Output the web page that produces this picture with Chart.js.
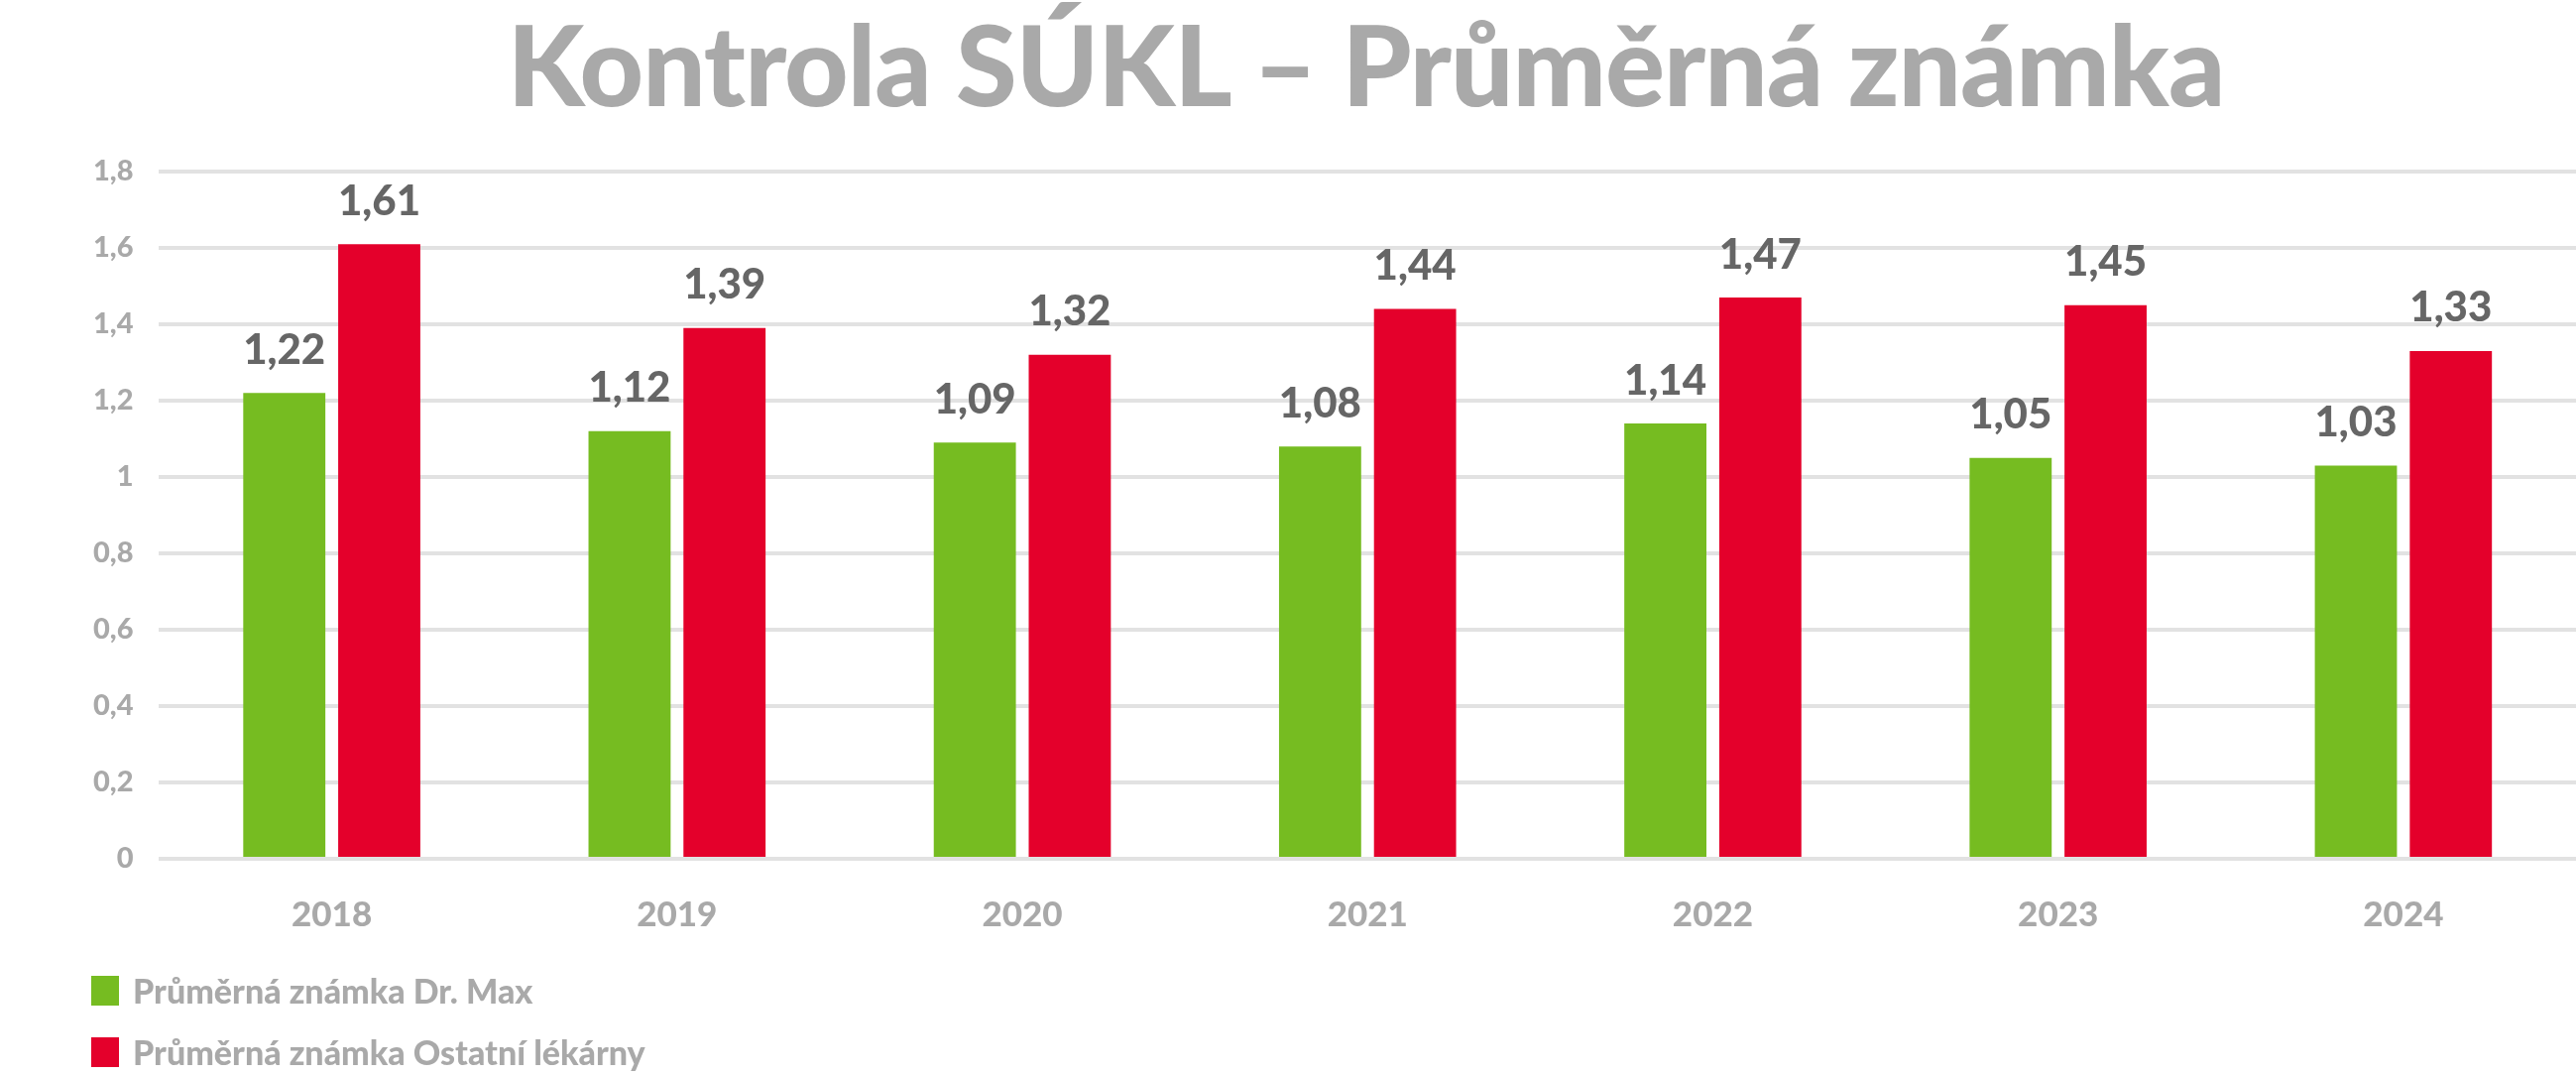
<!DOCTYPE html>
<html><head><meta charset="utf-8">
<script src="https://cdn.jsdelivr.net/npm/chart.js@4"></script>
<style>
html,body{margin:0;padding:0;background:#fff;width:2598px;height:1084px;overflow:hidden;font-family:Lato,"Open Sans",sans-serif;}
#wrap{position:absolute;left:0;top:0;width:2598px;height:1084px;}
#title{position:absolute;left:157px;right:0;top:-4px;text-align:center;font-weight:900;font-size:112px;color:#a9a9a9;letter-spacing:-1px;}
.leg{position:absolute;left:92px;font-weight:900;font-size:34px;color:#a9a9a9;display:flex;align-items:center;}
.leg span{display:inline-block;width:28px;height:30px;margin-right:14px;}
</style></head><body>
<div id="wrap"><canvas id="c" width="2598" height="1084"></canvas></div>
<div id="title">Kontrola SÚKL – Průměrná známka</div>
<div class="leg" style="top:978px"><span style="background:#76BC21"></span>Průměrná známka Dr. Max</div>
<div class="leg" style="top:1040px"><span style="background:#E4002B"></span>Průměrná známka Ostatní lékárny</div>
<script>
const years = ['2018','2019','2020','2021','2022','2023','2024'];
const drMax = [1.22,1.12,1.09,1.08,1.14,1.05,1.03];
const others = [1.61,1.39,1.32,1.44,1.47,1.45,1.33];
const seriesNames = ['Průměrná známka Dr. Max','Průměrná známka Ostatní lékárny'];
const fmt = v => String(Math.round(v*100)/100).replace('.',',');
const labelPlugin = {
  id:'vals',
  afterDatasetsDraw(chart){
    const ctx = chart.ctx;
    ctx.save();
    ctx.font = '900 42px Lato, "Open Sans", sans-serif';
    ctx.fillStyle = '#666';
    ctx.textAlign = 'center';
    ctx.textBaseline = 'bottom';
    chart.data.datasets.forEach((ds,i)=>{
      chart.getDatasetMeta(i).data.forEach((bar,j)=>{
        ctx.fillText(fmt(ds.data[j]), bar.x, bar.y - 22);
      });
    });
    ctx.restore();
  }
};
new Chart(document.getElementById('c'),{
  type:'bar',
  data:{labels:years,datasets:[
    {label:seriesNames[0],data:drMax,backgroundColor:'#76BC21'},
    {label:seriesNames[1],data:others,backgroundColor:'#E4002B'}
  ]},
  options:{
    responsive:false,animation:false,
    layout:{padding:{top:173,left:68,right:0,bottom:112}},
    plugins:{legend:{display:false},tooltip:{enabled:false}},
    datasets:{bar:{categoryPercentage:0.55,barPercentage:0.865}},
    scales:{
      x:{grid:{display:false},border:{display:false},
         ticks:{color:'#a9a9a9',padding:28,font:{size:35,weight:'900',family:'Lato, "Open Sans", sans-serif'}}},
      y:{min:0,max:1.8,border:{display:false},
         grid:{color:'#e2e2e2',lineWidth:4,drawTicks:false},
         ticks:{stepSize:0.2,padding:26,color:'#a9a9a9',font:{size:29,weight:'900',family:'Lato, "Open Sans", sans-serif'},
           callback:v=>fmt(v)}}
    }
  },
  plugins:[labelPlugin]
});
</script></body></html>
